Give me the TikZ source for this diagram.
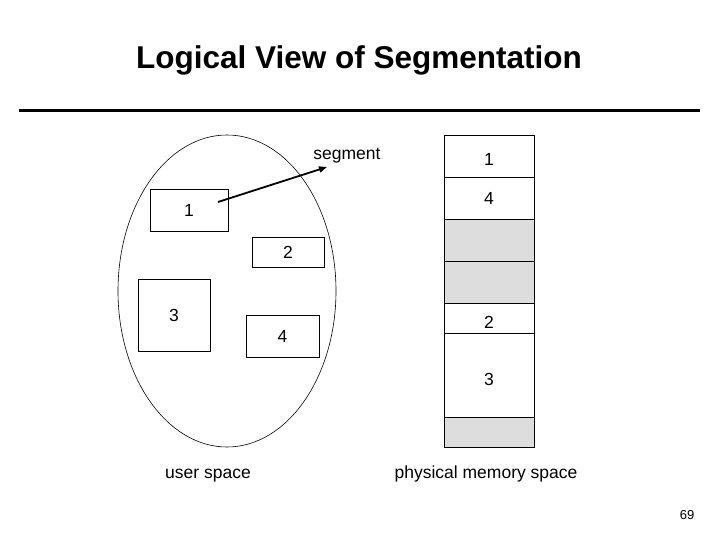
\documentclass[tikz,border=0pt]{standalone}
\usepackage{fontspec}
\setmainfont{Liberation Sans}
\usetikzlibrary{arrows.meta,positioning}
\definecolor{FreeGray}{HTML}{DDDDDD}

\begin{document}
\begin{tikzpicture}[x=1pt,y=-1pt,
  every node/.style={font=\fontsize{17.5}{20}\selectfont,inner sep=0pt,outer sep=0pt},
  segbox/.style={draw=black,line width=0.8pt,fill=white},
  memcell/.style={draw=black,line width=0.9pt,fill=white,minimum width=90pt},
  freecell/.style={memcell,fill=FreeGray},
  lowtext/.style={text height=20pt,text depth=0pt},
  ptr/.style={-{Triangle[length=8pt,width=6pt]},line width=1.8pt}
]
  \useasboundingbox (0,0) rectangle (720,540);
  % title and rule
  \node[font=\fontsize{31.5}{36}\selectfont\bfseries,anchor=base] (title) at (359,69) {Logical View of Segmentation};
  \coordinate (ruleL) at (19,110.5);
  \coordinate (ruleR) at (700,110.5);
  \draw[line width=3.8pt] (ruleL) -- (ruleR);
  % user space
  \draw[line width=0.6pt] (227,291) ellipse [x radius=109,y radius=156];
  \node[segbox,minimum width=78pt,minimum height=42pt] (s1) at (189,210) {1};
  \node[segbox,minimum width=72pt,minimum height=30pt] (s2) at (288,252) {2};
  \node[segbox,minimum width=72pt,minimum height=72pt] (s3) at (174,315) {3};
  \node[segbox,minimum width=73pt,minimum height=42pt] (s4) at (282.5,336) {4};
  \node[anchor=base] (seglabel) at (347,159.5) {segment};
  \coordinate (tip) at (327,167);
  \draw[ptr] ([shift={(29,-8)}]s1.center) -- (tip);
  % physical memory
  \node[memcell,lowtext,minimum height=42pt,anchor=north] (m1) at (489,135) {1};
  \node[memcell,minimum height=42pt,below=0pt of m1] (m4) {4};
  \node[freecell,minimum height=42pt,below=0pt of m4] (f1) {};
  \node[freecell,minimum height=42pt,below=0pt of f1] (f2) {};
  \node[memcell,lowtext,minimum height=30pt,below=0pt of f2] (m2) {2};
  \node[memcell,lowtext,minimum height=84pt,below=0pt of m2] (m3) {3};
  \node[freecell,minimum height=30pt,below=0pt of m3] (f3) {};
  % captions
  \node[anchor=base] (userlbl) at (208,478) {user space};
  \node[anchor=base] (physlbl) at (486,478) {physical memory space};
  \node[font=\fontsize{13}{15}\selectfont,anchor=base] (pagenum) at (687,519) {69};
\end{tikzpicture}
\end{document}
